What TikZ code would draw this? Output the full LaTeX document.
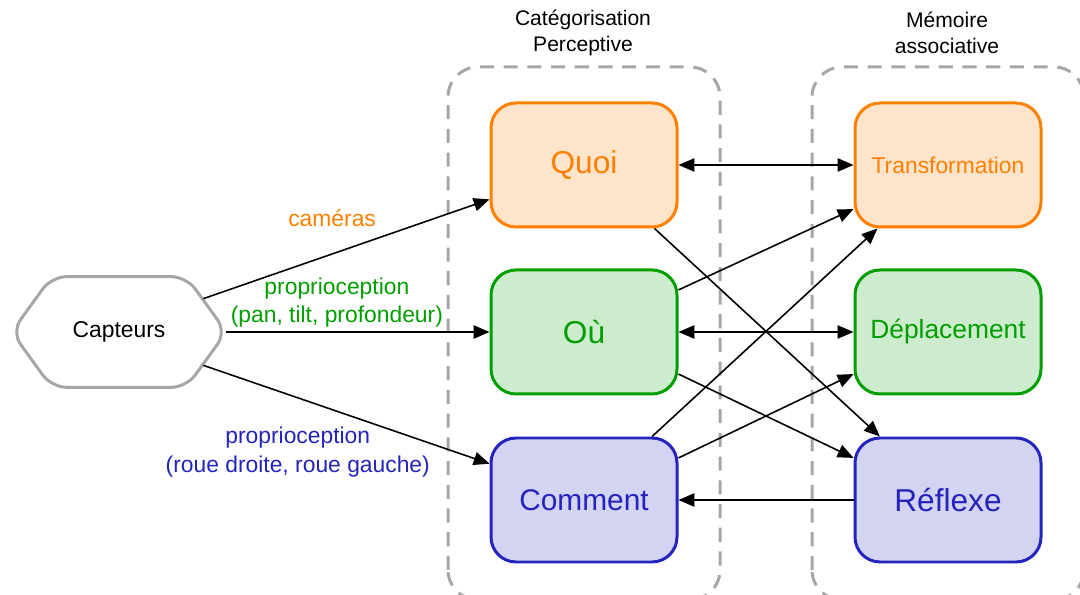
\documentclass[tikz,border=0pt]{standalone}
\usepackage{fontspec}
\setmainfont{Liberation Sans}
\usetikzlibrary{arrows.meta}
\definecolor{orangeT}{HTML}{FF8000}
\definecolor{orangeF}{HTML}{FFE4CC}
\definecolor{verteT}{HTML}{009E00}
\definecolor{verteF}{HTML}{CDEBCD}
\definecolor{bleueT}{HTML}{2424BC}
\definecolor{bleueF}{HTML}{D3D3F2}
\definecolor{grisC}{HTML}{A6A6A6}
\begin{document}
\begin{tikzpicture}[
      every node/.style={align=center},
      boite/.style={draw, rounded corners=0.5cm, minimum width=3.72cm, minimum height=2.48cm, line width=1.7pt},
      chaude/.style={boite, draw=orangeT, fill=orangeF, text=orangeT},
      verte/.style={boite, draw=verteT, fill=verteF, text=verteT},
      bleue/.style={boite, draw=bleueT, fill=bleueF, text=bleueT},
      cadre/.style={draw=grisC, line width=1.7pt, dash pattern=on 8pt off 5.5pt, rounded corners=0.6cm},
      hexa/.style={draw=grisC, line width=1.7pt, rounded corners=0.3cm},
      titre/.style={font=\fontsize{12}{14.7}\selectfont},
      etiq/.style={font=\fontsize{13}{16}\selectfont, inner sep=1pt},
      fleche/.style={-{Triangle[length=9pt,width=7.5pt]}, line width=0.9pt},
      bidir/.style={{Triangle[length=9pt,width=7.5pt]}-{Triangle[length=9pt,width=7.5pt]}, line width=0.9pt}
    ]
    \useasboundingbox (0,0) rectangle (21.6,11.9);
    % Cadres en pointillés des deux étages
    \draw[cadre] (8.96,-0.1) rectangle (14.4,10.56);
    \draw[cadre] (16.24,-0.1) rectangle (21.68,10.56);
    \node[titre] (tcat) at (11.66,11.24) {Catégorisation\\Perceptive};
    \node[titre] (tmem) at (18.94,11.24) {Mémoire\\associative};
    % Catégorisation perceptive
    \node[chaude, font=\fontsize{18}{20}\selectfont] (quoi)    at (11.68,8.6)  {Quoi};
    \node[verte,  font=\fontsize{18}{20}\selectfont] (ou)      at (11.68,5.26) {Où};
    \node[bleue,  font=\fontsize{17}{20}\selectfont] (comment) at (11.68,1.9)  {Comment};
    % Mémoire associative
    \node[chaude, font=\fontsize{13}{15}\selectfont] (transfo)     at (18.96,8.6)  {Transformation};
    \node[verte,  font=\fontsize{15}{18}\selectfont] (deplacement) at (18.96,5.26) {Déplacement};
    \node[bleue,  font=\fontsize{18}{20}\selectfont] (reflexe)     at (18.96,1.9)  {Réflexe};
    % Capteurs (hexagone)
    \node[minimum width=4.28cm, minimum height=2.2cm, font=\fontsize{13}{15}\selectfont] (capteurs) at (2.38,5.26) {Capteurs};
    \draw[hexa] (capteurs.west) -- ([xshift=0.8cm]capteurs.north west) -- ([xshift=-0.8cm]capteurs.north east)
      -- (capteurs.east) -- ([xshift=-0.8cm]capteurs.south east) -- ([xshift=0.8cm]capteurs.south west) -- cycle;
    % Entrées sensorielles
    \draw[fleche] ([xshift=-0.46cm,yshift=-0.44cm]capteurs.north east) -- node[etiq, text=orangeT, pos=0.45, above=5mm]{caméras} (quoi.200);
    \draw[fleche] (capteurs.east) -- node[etiq, text=verteT, pos=0.42, above=1pt]{proprioception\\(pan, tilt, profondeur)} (ou.west);
    \draw[fleche] ([xshift=-0.46cm,yshift=0.44cm]capteurs.south east) -- node[etiq, text=bleueT, pos=0.33, below=5.4mm]{proprioception\\(roue droite, roue gauche)} (comment.159);
    % Liens entre les deux étages
    \draw[bidir] (quoi) -- (transfo);
    \draw[bidir] (ou) -- (deplacement);
    \draw[fleche] (reflexe) -- (comment);
    \draw[fleche] (quoi.-42) -- (reflexe.137);
    \draw[fleche] (ou.24) -- (transfo.-155);
    \draw[fleche] (ou.-24) -- (reflexe.156);
    \draw[fleche] (comment.43) -- (transfo.-138);
    \draw[fleche] (comment.24) -- (deplacement.-156);
  \end{tikzpicture}
\end{document}
